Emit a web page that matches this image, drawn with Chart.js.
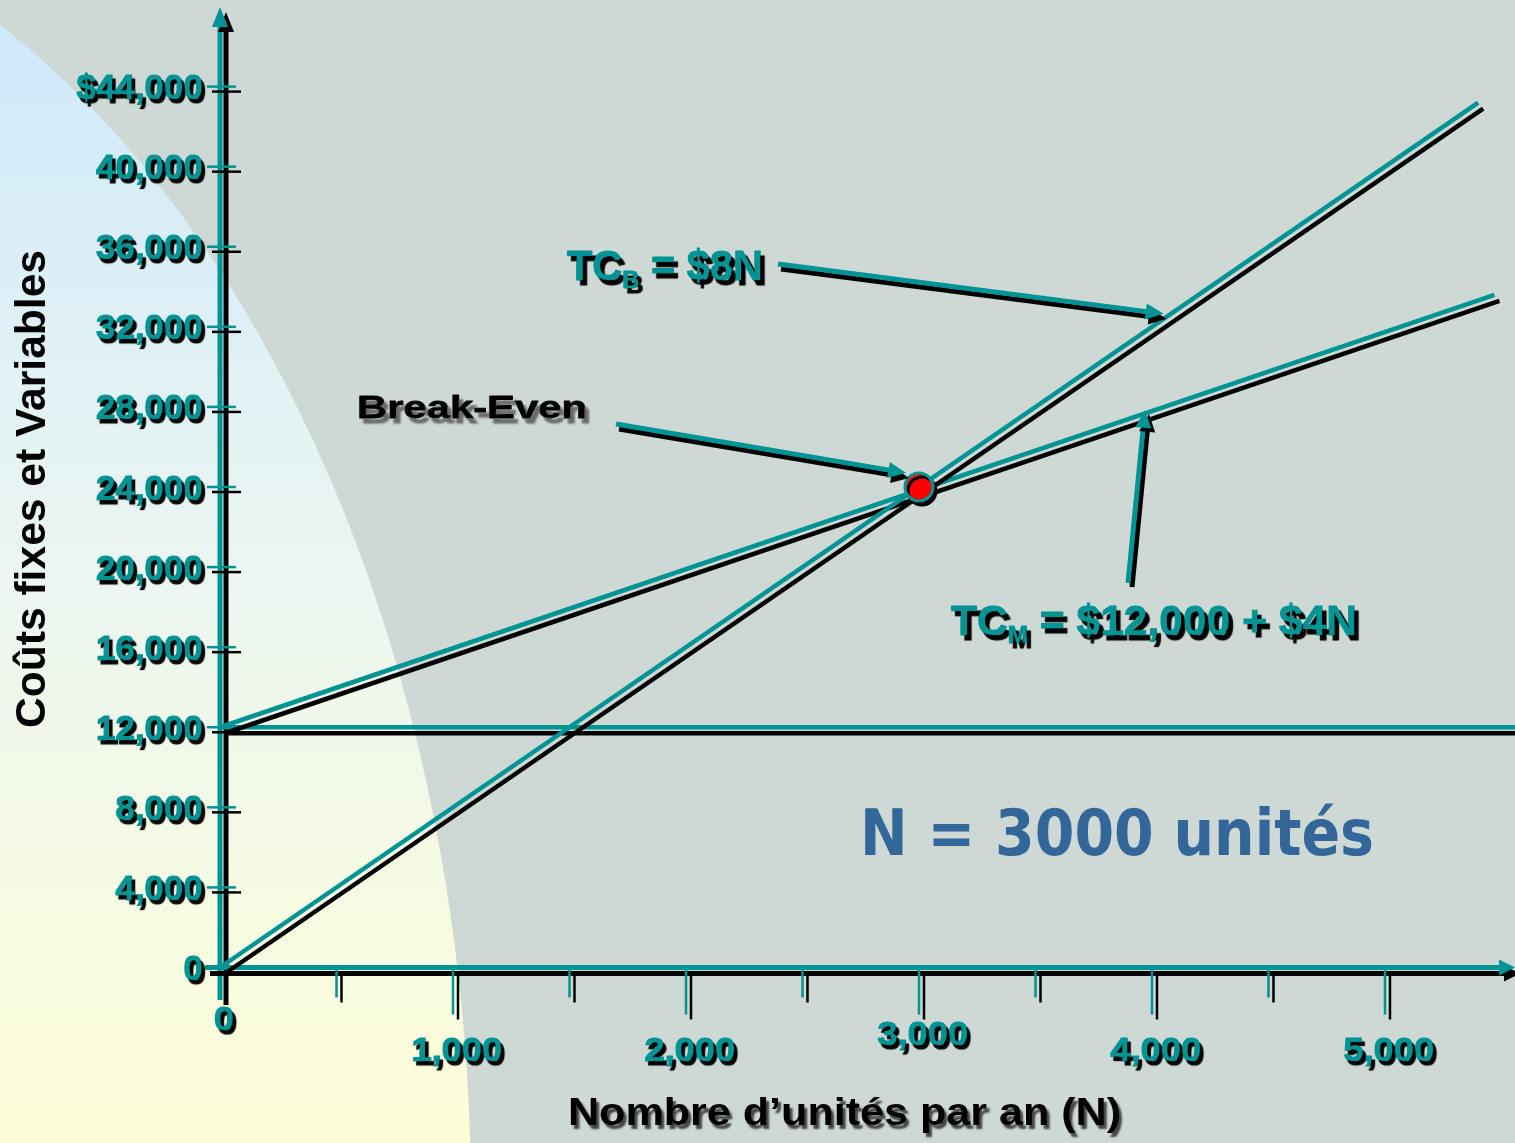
<!DOCTYPE html>
<html>
<head>
<meta charset="utf-8">
<script src="https://cdn.jsdelivr.net/npm/chart.js@4.4.1/dist/chart.umd.min.js"></script>
<style>
  html, body { margin: 0; padding: 0; overflow: hidden; background: #ced8d5; }
</style>
</head>
<body>
<canvas id="chart" width="1515" height="1143"></canvas>
<script>
// values
let unitsTCB = [0, 5400];
let costTCB = [0, 43200];
let unitsTCM = [0, 5470];
let costTCM = [12000, 33600];
let unitsFixed = [0, 5560];
let costFixed = [12000, 12000];
let unitsBreakEven = [3000];
let costBreakEven = [24000];

let yTickValues = [0, 4000, 8000, 12000, 16000, 20000, 24000, 28000, 32000, 36000, 40000, 44000];
let yTickLabels = ['0', '4,000', '8,000', '12,000', '16,000', '20,000', '24,000', '28,000', '32,000', '36,000', '40,000', '$44,000'];
let xTickValues = [0, 1000, 2000, 3000, 4000, 5000];
let xTickLabels = ['0', '1,000', '2,000', '3,000', '4,000', '5,000'];
let xMinorTicks = [500, 1500, 2500, 3500, 4500];

// arrow tips point at places on the cost lines (data units)
let arrowTipTCB = [4050, 32650];
let arrowTipBreakEven = [2945, 24700];
let arrowTipTCM = [3970, 27850];

let TEAL = '#009494';
let FONT = '"Liberation Sans", Arial, sans-serif';

let toPoints = function(xs, ys) {
  return xs.map(function(x, i) { return {x: x, y: ys[i]}; });
};

let setShadow = function(ctx, color, dx, dy, blur) {
  ctx.shadowColor = color;
  ctx.shadowOffsetX = dx;
  ctx.shadowOffsetY = dy;
  ctx.shadowBlur = blur || 0;
};

// text made of parts (for subscripts), optionally stretched horizontally
let drawLabel = function(ctx, parts, x, y, opts) {
  let total = 0;
  parts.forEach(function(p) {
    ctx.font = 'bold ' + p.size + 'px ' + (opts.family || FONT);
    p.w = ctx.measureText(p.t).width;
    total += p.w;
  });
  let sx = opts.width ? opts.width / total : (opts.scaleX || 1);
  let startX = x;
  if (opts.align == 'center') startX = x - total * sx / 2;
  else if (opts.align == 'right') startX = x - total * sx;
  ctx.save();
  ctx.fillStyle = opts.color;
  ctx.strokeStyle = opts.color;
  ctx.lineJoin = 'round';
  if (opts.shadow) setShadow(ctx, opts.shadow[0], opts.shadow[1], opts.shadow[2], opts.shadow[3]);
  ctx.textAlign = 'left';
  ctx.textBaseline = 'alphabetic';
  let cx = 0;
  parts.forEach(function(p) {
    ctx.save();
    ctx.translate(startX + cx * sx, y + (p.dy || 0));
    ctx.scale(sx, 1);
    ctx.font = 'bold ' + p.size + 'px ' + (opts.family || FONT);
    if (opts.stroke) {
      ctx.lineWidth = opts.stroke;
      ctx.strokeText(p.t, 0, 0);
    }
    ctx.fillText(p.t, 0, 0);
    ctx.restore();
    cx += p.w;
  });
  ctx.restore();
};

let tealLine = function(ctx, x1, y1, x2, y2, w, dx, dy) {
  ctx.save();
  setShadow(ctx, '#000', dx, dy);
  ctx.strokeStyle = TEAL;
  ctx.lineWidth = w;
  ctx.lineCap = 'butt';
  ctx.beginPath();
  ctx.moveTo(x1, y1);
  ctx.lineTo(x2, y2);
  ctx.stroke();
  ctx.restore();
};

let tealArrow = function(ctx, x1, y1, x2, y2, w, head, half, dx, dy) {
  let ang = Math.atan2(y2 - y1, x2 - x1);
  let bx = x2 - Math.cos(ang) * head;
  let by = y2 - Math.sin(ang) * head;
  ctx.save();
  setShadow(ctx, '#000', dx, dy);
  ctx.strokeStyle = TEAL;
  ctx.fillStyle = TEAL;
  ctx.lineWidth = w;
  ctx.beginPath();
  ctx.moveTo(x1, y1);
  ctx.lineTo(bx + Math.cos(ang), by + Math.sin(ang));
  ctx.stroke();
  ctx.beginPath();
  ctx.moveTo(x2, y2);
  ctx.lineTo(bx + Math.sin(ang) * half, by - Math.cos(ang) * half);
  ctx.lineTo(bx - Math.sin(ang) * half, by + Math.cos(ang) * half);
  ctx.closePath();
  ctx.fill();
  ctx.restore();
};

let slideBackground = {
  id: 'slideBackground',
  beforeDraw: function(chart) {
    let ctx = chart.ctx;
    ctx.save();
    ctx.fillStyle = '#ced8d5';
    ctx.fillRect(0, 0, chart.width, chart.height);
    let grad = ctx.createLinearGradient(0, 0, 0, chart.height);
    grad.addColorStop(0, '#cde9fc');
    grad.addColorStop(0.5, '#ecf6f1');
    grad.addColorStop(1, '#fdfed8');
    ctx.fillStyle = grad;
    ctx.beginPath();
    ctx.ellipse(-400, 1200, 871, 1323, 0, 0, Math.PI * 2);
    ctx.fill();
    ctx.restore();
  }
};

let axesPlugin = {
  id: 'axesPlugin',
  beforeDatasetsDraw: function(chart) {
    let ctx = chart.ctx;
    let xs = chart.scales.x, ys = chart.scales.y;
    let x0 = xs.getPixelForValue(0);
    let y0 = ys.getPixelForValue(0);

    // y axis with arrow on top
    tealArrow(ctx, x0, 1000, x0, 7, 5, 20, 8, 6, 5);
    // x axis with arrow on the right
    tealArrow(ctx, 205, y0, 1515, y0, 5, 16, 8, 5, 6);

    yTickValues.forEach(function(v) {
      let y = ys.getPixelForValue(v);
      tealLine(ctx, 207, y, 236, y, 2.5, 5, 5);
    });
    xTickValues.forEach(function(v, i) {
      if (i == 0) return;
      let x = xs.getPixelForValue(v);
      tealLine(ctx, x, y0, x, y0 + 47, 2.5, 5, 5);
    });
    xMinorTicks.forEach(function(v) {
      let x = xs.getPixelForValue(v);
      tealLine(ctx, x, y0, x, y0 + 30, 2.5, 5, 5);
    });
  },
  afterDatasetsDraw: function(chart) {
    let ctx = chart.ctx;
    let xs = chart.scales.x, ys = chart.scales.y;
    let tickShadow = ['#000', 3, 4, 1];

    yTickValues.forEach(function(v, i) {
      let y = ys.getPixelForValue(v);
      drawLabel(ctx, [{t: yTickLabels[i], size: 35}], 203, y + 12.5,
        {color: TEAL, align: 'right', shadow: tickShadow, stroke: 1.2});
    });

    xTickValues.forEach(function(v, i) {
      let x = xs.getPixelForValue(v);
      let base = 1061;
      if (v == 0) base = 1030;
      if (v == 3000) base = 1045;
      drawLabel(ctx, [{t: xTickLabels[i], size: 33}], x + 4, base,
        {color: TEAL, align: 'center', scaleX: 1.1, shadow: tickShadow, stroke: 1.2});
    });

    // axis titles
    drawLabel(ctx, [{t: 'Nombre d\u2019unités par an (N)', size: 39}], 568, 1125,
      {color: '#000', width: 553, shadow: ['#444', 3, 4, 2]});

    ctx.save();
    ctx.translate(45, 489);
    ctx.rotate(-Math.PI / 2);
    drawLabel(ctx, [{t: 'Coûts fixes et Variables', size: 42}], 0, 0,
      {color: '#000', align: 'center', width: 478});
    ctx.restore();

    // annotations
    let labelShadow = ['#000', 4, 5, 1];
    drawLabel(ctx, [{t: 'TC', size: 42}, {t: 'B', size: 24, dy: 8}, {t: ' = $8N', size: 42}], 567, 280,
      {color: TEAL, width: 196, shadow: labelShadow, stroke: 1});
    drawLabel(ctx, [{t: 'TC', size: 42}, {t: 'M', size: 24, dy: 8}, {t: ' = $12,000 + $4N', size: 42}], 951, 635,
      {color: TEAL, width: 406, shadow: labelShadow, stroke: 1});
    drawLabel(ctx, [{t: 'Break-Even', size: 32}], 357, 418,
      {color: '#000', width: 230, shadow: ['#666', 4, 5, 2], stroke: 0.8});
    drawLabel(ctx, [{t: 'N = 3000 unités', size: 64}], 860, 855,
      {color: '#336699', width: 514, family: '"DejaVu Sans", Verdana, sans-serif'});

    tealArrow(ctx, 778, 264, xs.getPixelForValue(arrowTipTCB[0]), ys.getPixelForValue(arrowTipTCB[1]), 5, 18, 8, 3, 5);
    tealArrow(ctx, 616, 424, xs.getPixelForValue(arrowTipBreakEven[0]), ys.getPixelForValue(arrowTipBreakEven[1]), 5, 18, 8, 3, 5);
    tealArrow(ctx, 1128, 583, xs.getPixelForValue(arrowTipTCM[0]), ys.getPixelForValue(arrowTipTCM[1]), 5, 18, 8, 4, 4);
  }
};

let lineShadow = {
  id: 'lineShadow',
  beforeDatasetDraw: function(chart, args) {
    chart.ctx.save();
    // the break-even dot casts a smaller shadow than the lines
    if (args.index == 0) setShadow(chart.ctx, '#000', 3, 4);
    else setShadow(chart.ctx, '#000', 5, 6);
  },
  afterDatasetDraw: function(chart) {
    chart.ctx.restore();
  }
};

let lineDataset = function(label, xs, ys) {
  return {
    label: label,
    data: toPoints(xs, ys),
    showLine: true,
    borderColor: TEAL,
    borderWidth: 4.5,
    pointRadius: 0,
    clip: false
  };
};

let chart = new Chart(document.getElementById('chart'), {
  type: 'scatter',
  data: {
    datasets: [
      {
        label: 'Break-Even',
        data: toPoints(unitsBreakEven, costBreakEven),
        pointRadius: 14,
        backgroundColor: '#ff0000',
        borderColor: TEAL,
        borderWidth: 3,
        clip: false
      },
      lineDataset('TC_B', unitsTCB, costTCB),
      lineDataset('TC_M', unitsTCM, costTCM),
      lineDataset('Coûts fixes', unitsFixed, costFixed)
    ]
  },
  options: {
    responsive: false,
    animation: false,
    layout: { autoPadding: false, padding: { left: 220, right: 0, top: 6.5, bottom: 175.5 } },
    scales: {
      x: { type: 'linear', min: 0, max: 5558, display: false },
      y: { type: 'linear', min: 0, max: 48000, display: false }
    },
    plugins: {
      legend: { display: false },
      tooltip: { enabled: false }
    }
  },
  plugins: [slideBackground, axesPlugin, lineShadow]
});
</script>
</body>
</html>
